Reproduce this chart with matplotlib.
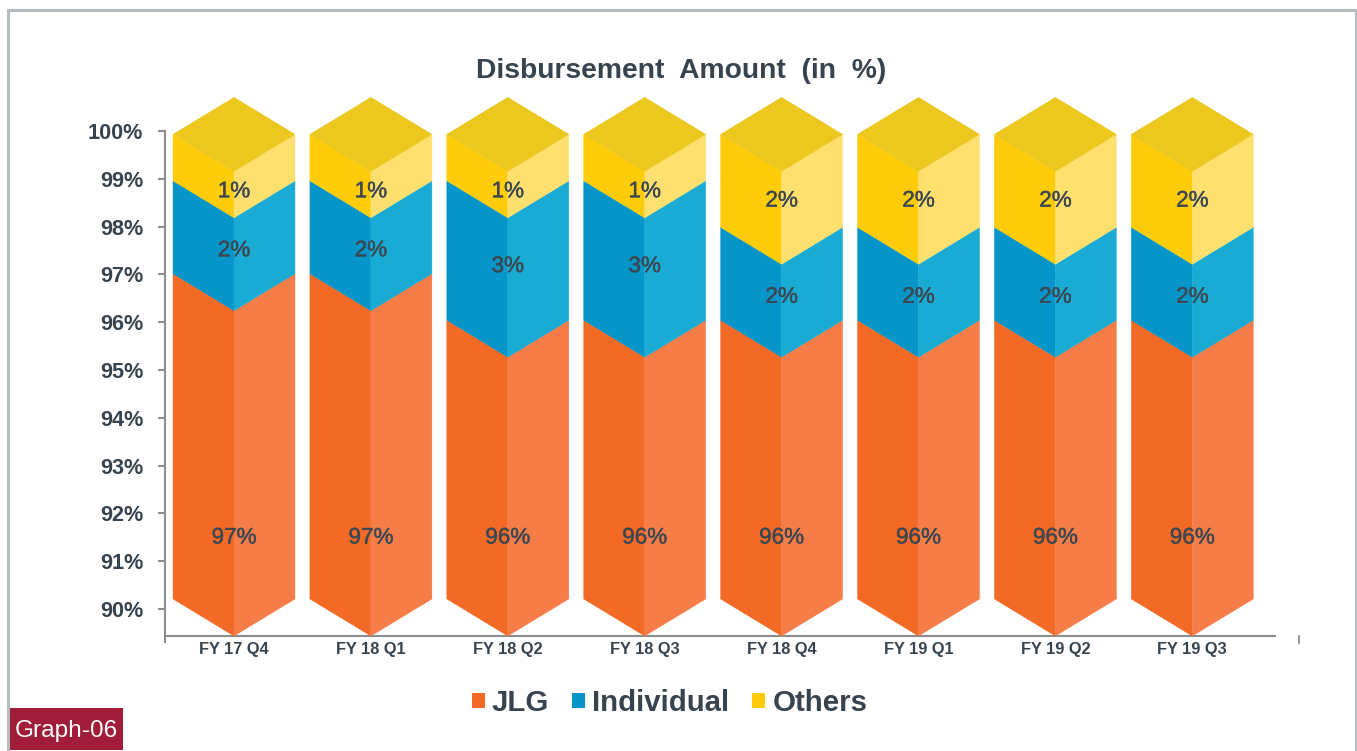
import matplotlib
matplotlib.use("Agg")
import matplotlib.pyplot as plt
import matplotlib.patheffects as pe
from matplotlib.lines import Line2D
from matplotlib.patches import Patch, Rectangle

categories = ["FY 17 Q4", "FY 18 Q1", "FY 18 Q2", "FY 18 Q3",
              "FY 18 Q4", "FY 19 Q1", "FY 19 Q2", "FY 19 Q3"]
jlg = [97, 97, 96, 96, 96, 96, 96, 96]
individual = [2, 2, 3, 3, 2, 2, 2, 2]
others = [1, 1, 1, 1, 2, 2, 2, 2]
y_ticks = [90, 91, 92, 93, 94, 95, 96, 97, 98, 99, 100]
series_names = ["JLG", "Individual", "Others"]

W, H = 1357, 751
TEXT = "#37434F"
FONT = ["Liberation Sans", "DejaVu Sans"]
plt.rcParams["font.family"] = FONT
LEFT_COL = ["#F26A25", "#0595C9", "#FFCC0A"]
RIGHT_COL = ["#F67D48", "#19ABD4", "#FFE06F"]
TOP_COL = "#ECC71E"
AXIS = "#8C8C8C"
BORDER = "#B5BDC0"

fig = plt.figure(figsize=(W / 100, H / 100), dpi=100, facecolor="white")


def fx(p):
    return p / W


def fy(p):
    return 1 - p / H


# axes: left spine at x=165, baseline at y=636, 100% tick at y=131
ax = fig.add_axes([fx(165), fy(636), (1275 - 165) / W, (636 - 131) / H])
PX_PER_PCT = 47.8
PX_PER_CAT = 136.9
ymin = 100 - (636 - 131) / PX_PER_PCT
ax.set_ylim(ymin, 100)
ax.set_xlim(-69 / PX_PER_CAT, (1275 - 234) / PX_PER_CAT)
ax.patch.set_alpha(0)

half = 61 / PX_PER_CAT
depth = 37 / PX_PER_PCT
base = ymin + depth
top = 99.93


def scaled(v):
    # the pseudo-3D columns run from `base` to `top` for values 90..100
    return base + (v - 90) * (top - base) / 10


def prism(x, lo, hi, i):
    a, b = scaled(lo), scaled(hi)
    kw = dict(linewidth=0.3, zorder=3)
    ax.fill([x - half, x, x, x - half], [a, a - depth, b - depth, b],
            facecolor=LEFT_COL[i], edgecolor=LEFT_COL[i], **kw)
    ax.fill([x, x + half, x + half, x], [a - depth, a, b, b - depth],
            facecolor=RIGHT_COL[i], edgecolor=RIGHT_COL[i], **kw)


# share of a segment's front edge at which each label sits
LABEL_FRAC = {(1, 2): 0.645, (1, 3): 0.65, (2, 1): 0.56, (2, 2): 0.68}
JLG_LABEL_Y = 100 - (538 - 131) / PX_PER_PCT


def label(x, y, value):
    ax.text(x, y, f"{value}%", ha="center", va="center", fontsize=16.2,
            color="#3C4750", zorder=5,
            path_effects=[pe.withStroke(linewidth=0.3, foreground="#3C4750")])


for x, (a, b, c) in enumerate(zip(jlg, individual, others)):
    prism(x, 90, a, 0)
    prism(x, a, a + b, 1)
    prism(x, a + b, a + b + c, 2)
    t = scaled(a + b + c)
    ax.fill([x - half, x, x + half, x], [t, t - depth, t, t + depth],
            facecolor=TOP_COL, edgecolor=TOP_COL, linewidth=0.3, zorder=3,
            clip_on=False)
    label(x, JLG_LABEL_Y, a)
    s1, s2, s3 = scaled(a), scaled(a + b), scaled(a + b + c)
    label(x, s1 - depth + (s2 - s1) * LABEL_FRAC[(1, b)], b)
    label(x, s2 - depth + (s3 - s2) * LABEL_FRAC[(2, c)], c)

ax.spines[["top", "right"]].set_visible(False)
for sp in ("left", "bottom"):
    ax.spines[sp].set_color(AXIS)
    ax.spines[sp].set_linewidth(1.5)
ax.set_yticks(y_ticks, [f"{v}%" for v in y_ticks])
ax.set_xticks(range(len(categories)), categories)
ax.tick_params(axis="y", length=5, width=1.5, color=AXIS, pad=10.5, labelsize=15.6,
               labelcolor=TEXT)
ax.tick_params(axis="x", length=0, pad=4, labelsize=11.8, labelcolor=TEXT)
for lab in ax.get_yticklabels() + ax.get_xticklabels():
    lab.set_fontweight("bold")

# tick below the origin and the stray tick right of the axis
fig.add_artist(Line2D([fx(165), fx(165)], [fy(636), fy(642)], color=AXIS, lw=1.5))
fig.add_artist(Line2D([fx(1298.5), fx(1298.5)], [fy(636), fy(643)], color=AXIS, lw=1.3))

fig.text(fx(681.5), fy(71.5), "Disbursement  Amount  (in  %)", ha="center", va="center",
         fontsize=20.3, fontweight="bold", color=TEXT)

handles = [Patch(facecolor=c, edgecolor="none") for c in LEFT_COL]
fig.legend(handles, series_names, loc="center", bbox_to_anchor=(fx(669.5), fy(703)),
           ncol=3, frameon=False, handlelength=0.44, handleheight=0.44, handletextpad=0.24,
           columnspacing=0.78, borderpad=0, labelcolor=TEXT,
           prop={"weight": "bold", "size": 21.2, "family": FONT})

# frame of the page
for xs, ys in (([7.5, 7.5], [751, 10.3]), ([7.5, 1355.5], [10.3, 10.3]),
               ([1355.5, 1355.5], [10.3, 751])):
    fig.add_artist(Line2D([fx(v) for v in xs], [fy(v) for v in ys], color=BORDER, lw=2.2))

fig.add_artist(Rectangle((fx(9), fy(750)), 114 / W, 42 / H, transform=fig.transFigure,
                         facecolor="#A01C38", edgecolor="none"))
fig.text(fx(66), fy(731), "Graph-06", ha="center", va="center", color="white", fontsize=17.6)

fig.savefig("out.png", dpi=100, facecolor="white")
